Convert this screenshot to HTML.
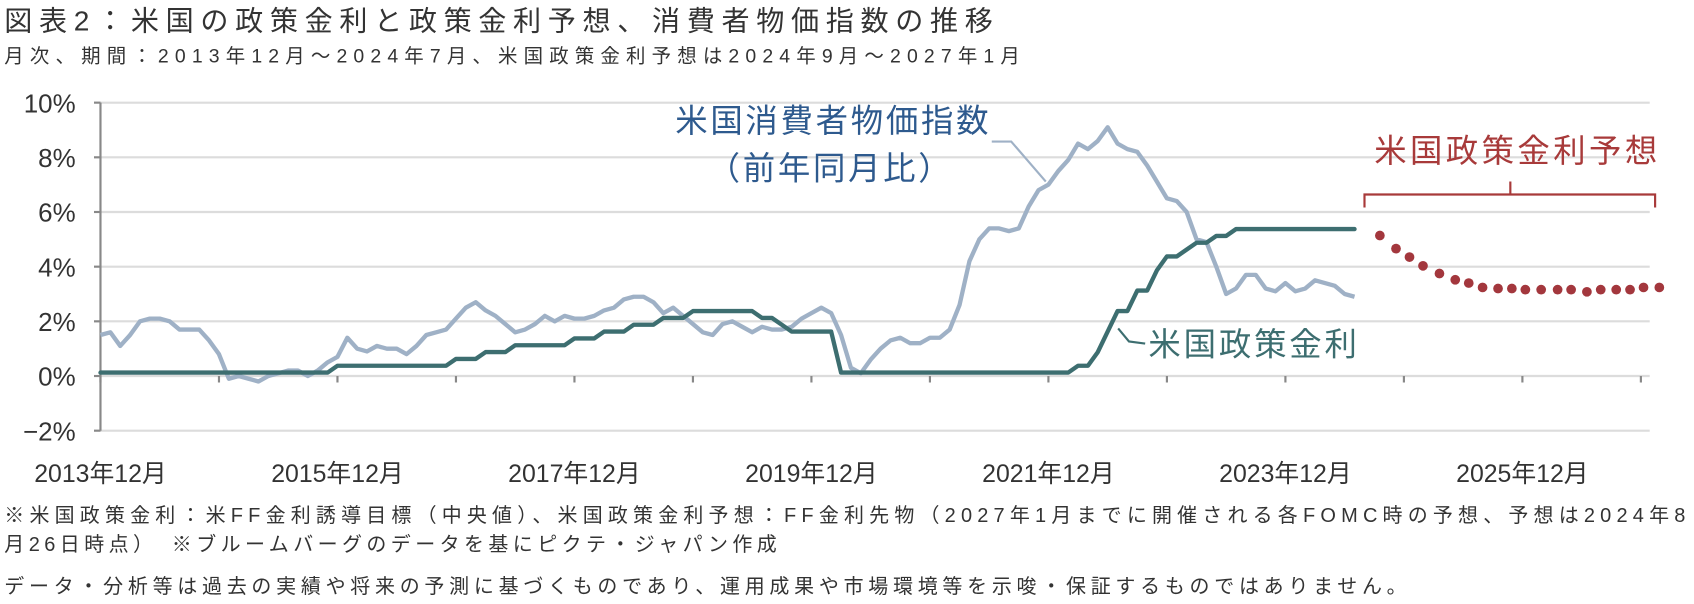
<!DOCTYPE html>
<html><head><meta charset="utf-8"><style>
body{margin:0;background:#fff;}
svg{display:block;font-family:"Liberation Sans","Noto Sans CJK JP",sans-serif;}
</style></head><body>
<svg id="c" width="1694" height="604" viewBox="0 0 1568 559" preserveAspectRatio="none">
<text x="4" y="28" font-size="26" fill="#333" textLength="915">図表2：米国の政策金利と政策金利予想、消費者物価指数の推移</text>
<text x="4" y="58" font-size="18" fill="#333" textLength="940">月次、期間：2013年12月～2024年7月、米国政策金利予想は2024年9月～2027年1月</text>
<g id="grid"></g><g id="axes"></g><g id="series"></g>
<text x="625" y="122" font-size="30" fill="#2e5a8e" textLength="290">米国消費者物価指数</text>
<text x="655" y="166" font-size="30" fill="#2e5a8e" textLength="225">（前年同月比）</text>
<polyline points="918,131 936,131 968,168" fill="none" stroke="#9fb1c6" stroke-width="2"/>
<text x="1063" y="329" font-size="30" fill="#3d6e70" textLength="193">米国政策金利</text>
<polyline points="1060,318 1045,316 1035,304" fill="none" stroke="#3d6e70" stroke-width="2"/>
<text x="1272" y="150" font-size="30" fill="#a83a3a" textLength="262">米国政策金利予想</text>
<path d="M1263,192 V180 H1532 V192 M1398,180 V168" fill="none" stroke="#a83a3a" stroke-width="2"/>
<text x="4" y="483" font-size="18.5" fill="#333" textLength="1556">※米国政策金利：米FF金利誘導目標（中央値）、米国政策金利予想：FF金利先物（2027年1月までに開催される各FOMC時の予想、予想は2024年8</text>
<text x="4" y="510" font-size="18.5" fill="#333" textLength="715">月26日時点）　※ブルームバーグのデータを基にピクテ・ジャパン作成</text>
<text x="4" y="549" font-size="18.5" fill="#333" textLength="1298">データ・分析等は過去の実績や将来の予測に基づくものであり、運用成果や市場環境等を示唆・保証するものではありません。</text>
</svg>
<script>
const yTicks=[10,8,6,4,2,0,-2];
const xTickLabels=["2013年12月","2015年12月","2017年12月","2019年12月","2021年12月","2023年12月","2025年12月"];
const cpi=[1.5,
1.6,1.1,1.5,2.0,2.1,2.1,2.0,1.7,1.7,1.7,1.3,0.8,
-0.1,0.0,-0.1,-0.2,0.0,0.1,0.2,0.2,0.0,0.2,0.5,0.7,
1.4,1.0,0.9,1.1,1.0,1.0,0.8,1.1,1.5,1.6,1.7,2.1,
2.5,2.7,2.4,2.2,1.9,1.6,1.7,1.9,2.2,2.0,2.2,2.1,
2.1,2.2,2.4,2.5,2.8,2.9,2.9,2.7,2.3,2.5,2.2,1.9,
1.6,1.5,1.9,2.0,1.8,1.6,1.8,1.7,1.7,1.8,2.1,2.3,
2.5,2.3,1.5,0.3,0.1,0.6,1.0,1.3,1.4,1.2,1.2,1.4,
1.4,1.7,2.6,4.2,5.0,5.4,5.4,5.3,5.4,6.2,6.8,7.0,
7.5,7.9,8.5,8.3,8.6,9.1,8.5,8.3,8.2,7.7,7.1,6.5,
6.4,6.0,5.0,4.9,4.0,3.0,3.2,3.7,3.7,3.2,3.1,3.4,
3.1,3.2,3.5,3.4,3.3,3.0,2.9];
const rateSteps=[["2013-12",0.125],["2015-12",0.375],["2016-12",0.625],["2017-03",0.875],["2017-06",1.125],["2017-12",1.375],["2018-03",1.625],["2018-06",1.875],["2018-09",2.125],["2018-12",2.375],["2019-07",2.125],["2019-09",1.875],["2019-10",1.625],["2020-03",0.125],["2022-03",0.375],["2022-05",0.875],["2022-06",1.625],["2022-07",2.375],["2022-09",3.125],["2022-11",3.875],["2022-12",4.375],["2023-02",4.625],["2023-03",4.875],["2023-05",5.125],["2023-07",5.375]];
const rateEnd="2024-07";
const fomcDates=["2024-09-18","2024-11-07","2024-12-18","2025-01-29","2025-03-19","2025-05-07","2025-06-18","2025-07-30","2025-09-17","2025-10-29","2025-12-10","2026-01-28","2026-03-18","2026-04-29","2026-06-17","2026-07-29","2026-09-16","2026-10-28","2026-12-09","2027-01-27"];
const forecast=[5.14,4.66,4.35,4.03,3.75,3.52,3.40,3.24,3.20,3.20,3.16,3.16,3.16,3.16,3.08,3.16,3.16,3.16,3.24,3.24];

const NS="http://www.w3.org/2000/svg";
const X0=93,PXM=9.14,Y0=348,PXP=25.3;
const x=m=>X0+m*PXM, y=v=>Y0-v*PXP;
const mon=s=>{const p=s.split("-");return (+p[0]-2013)*12+(+p[1]-12)+(p[2]?(+p[2]-1)/30:0);};
function mk(tag,attrs,parent){const e=document.createElementNS(NS,tag);for(const k in attrs)e.setAttribute(k,attrs[k]);parent.appendChild(e);return e;}
const grid=document.getElementById("grid"),axes=document.getElementById("axes"),series=document.getElementById("series");
yTicks.forEach(v=>{
  const g=mk("line",{x1:X0,x2:1527,y1:y(v),y2:y(v),stroke:"#dcdcdc","stroke-width":2},grid);
  
  
  const tk=mk("line",{x1:X0-6,x2:X0,y1:y(v),y2:y(v),stroke:"#888","stroke-width":2},axes);
  
  
  const t=mk("text",{x:70,y:y(v)+9,"font-size":24,fill:"#333","text-anchor":"end"},axes);
  t.textContent=(v<0?"−"+(-v):v)+"%";
  
  
});
const ax=mk("line",{x1:X0,x2:X0,y1:y(10),y2:y(-2),stroke:"#888","stroke-width":2},axes);


for(let m=0;m<=157;m+=12){
  const tk=mk("line",{x1:x(m),x2:x(m),y1:Y0,y2:Y0+6,stroke:"#888","stroke-width":2},axes);
  
  
}
xTickLabels.forEach((l,i)=>{
  const t=mk("text",{x:x(i*24),y:446,"font-size":23,fill:"#333","text-anchor":"middle"},axes);
  t.textContent=l;
  
  
});
const cp=mk("polyline",{points:cpi.map((v,i)=>x(i)+","+y(v)).join(" "),fill:"none",stroke:"#9fb1c6","stroke-width":4,"stroke-linejoin":"round"},series);


let pts=[];
rateSteps.forEach((s,i)=>{
  const m=mon(s[0]);
  if(i>0){pts.push(x(m-1)+","+y(rateSteps[i-1][1]));}
  pts.push(x(m)+","+y(s[1]));
});
pts.push(x(mon(rateEnd))+","+y(rateSteps[rateSteps.length-1][1]));
const rl=mk("polyline",{points:pts.join(" "),fill:"none",stroke:"#3d6e70","stroke-width":4,"stroke-linejoin":"round","stroke-linecap":"round"},series);


forecast.forEach((v,i)=>{
  const c=mk("circle",{cx:x(mon(fomcDates[i])),cy:y(v),r:4.5,fill:"#a3373d"},series);
  
  
});
</script>
</body></html>
